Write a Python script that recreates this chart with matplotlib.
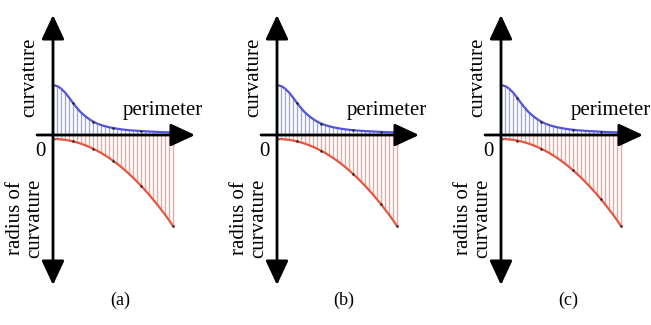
import numpy as np
import matplotlib
matplotlib.use("Agg")
from matplotlib import pyplot as plt

plt.rcParams['font.family'] = ['Liberation Serif', 'DejaVu Serif']

# sampled perimeter positions (stem index)
perimeter = np.arange(31)

# curvature values (above the axis)
curvature = [50, 49, 46.5, 42.5, 37.5, 32, 27, 22.5, 19, 16, 13.5, 11.5, 10,
             8.8, 7.8, 7, 6.3, 5.7, 5.2, 4.8, 4.5, 4.2, 3.9, 3.7, 3.5, 3.3,
             3.1, 2.9, 2.8, 2.7, 2.6]

# radius of curvature values (drawn below the axis)
radius = [4.0, 4.1, 4.4, 4.9, 5.5, 6.4, 7.5, 8.7, 10.2, 11.8, 13.7, 15.7,
          17.9, 20.3, 22.9, 25.7, 28.7, 31.9, 35.3, 38.9, 42.6, 46.6, 50.8,
          55.1, 59.6, 64.4, 69.3, 74.4, 79.7, 85.2, 91.0]

# control points (stem indices) marked in each panel
dots = {
    "(a)": [0, 5, 10, 15, 22, 30],
    "(b)": [0, 5, 11, 19, 26, 30],
    "(c)": [0, 4, 10, 18, 25, 30],
}

panel_x = [53, 277, 501]  # pixel position of the vertical axis of each panel

W, H = 651, 325
fig = plt.figure(figsize=(W / 100, H / 100), dpi=100)

blue = "#5454d8"
blue_light = "#9ea4ee"
red = "#e8553f"
red_light = "#f4a49a"

curv = np.array(curvature)
rad = -np.array(radius)

for (label, idx), x0 in zip(dots.items(), panel_x):
    ax = fig.add_axes([(x0 - 53) / W, 0, 224 / W, 1])
    ax.set_xlim(-53 / 4, (224 - 53) / 4)
    ax.set_ylim(135 - H, 135)
    ax.axis("off")

    ax.vlines(perimeter, 0, curv, color=blue_light, lw=1.0)
    ax.vlines(perimeter, 0, rad, color=red_light, lw=1.0)
    ax.plot(perimeter, curv, color=blue, lw=1.6)
    ax.plot(perimeter, rad, color=red, lw=1.6)
    ax.plot(perimeter[idx], curv[idx], "o", color="#222222", ms=1.8, mew=0)
    ax.plot(perimeter[idx], rad[idx], "o", color="#222222", ms=1.8, mew=0)

    # axes with arrows
    ax.annotate("", xy=(35.5, 0), xytext=(-4, 0),
                arrowprops=dict(arrowstyle="-|>,head_length=0.75,head_width=0.35",
                                color="black", lw=2, mutation_scale=20,
                                shrinkA=0, shrinkB=0))
    ax.annotate("", xy=(0, 120), xytext=(0, -150),
                arrowprops=dict(arrowstyle="<|-|>,head_length=0.75,head_width=0.35",
                                color="black", lw=2, mutation_scale=20,
                                shrinkA=0, shrinkB=0))

    ax.text(-5.75, 58, "curvature", rotation=90, ha="center", va="center",
            fontsize=15)
    ax.text(17.5, 25, "perimeter", ha="left", va="center", fontsize=15)
    ax.text(-3.25, -16, "0", ha="center", va="center", fontsize=15)
    ax.text(-7, -83, "radius of\ncurvature", rotation=90, ha="center",
            va="center", fontsize=15, linespacing=1.0, multialignment="center")
    ax.text(16.75, -165, label, ha="center", va="center", fontsize=13)

plt.savefig("out.png", dpi=100)
